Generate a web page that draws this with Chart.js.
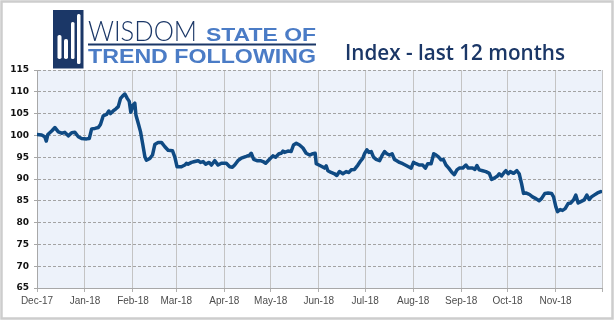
<!DOCTYPE html>
<html>
<head>
<meta charset="utf-8">
<script src="https://cdn.jsdelivr.net/npm/chart.js@4"></script>
<style>
  html, body { margin: 0; padding: 0; background: #ffffff; }
  #wrap { position: relative; width: 615px; height: 322px; overflow: hidden; }
  #chart { position: absolute; left: 0; top: 0; }
  #hdr { position: absolute; left: 0; top: 0; pointer-events: none; }
</style>
</head>
<body>
<div id="wrap">
  <canvas id="chart" width="615" height="322"></canvas>
  <svg id="hdr" width="615" height="322" xmlns="http://www.w3.org/2000/svg">
    <rect x="1.5" y="1.5" width="611" height="317" fill="none" stroke="#cdcdcd" stroke-width="2.5"/>
    <rect x="53" y="10" width="30.5" height="58.5" fill="#1b3767"/>
    <rect x="57.5" y="35" width="4" height="24" rx="1.8" fill="#ffffff"/>
    <rect x="64" y="39" width="4" height="20" rx="1.8" fill="#ffffff"/>
    <rect x="71" y="22" width="3.5" height="37" rx="1.5" fill="#ffffff"/>
    <rect x="77" y="14" width="3.5" height="50" rx="1.5" fill="#ffffff"/>
    <text x="88" y="40.5" font-family="Lato, 'Open Sans', sans-serif" font-weight="300" font-size="28" fill="#1b3767" textLength="109" lengthAdjust="spacingAndGlyphs">WISDOM</text>
    <text x="206" y="40.5" font-family="'Liberation Sans', Arial, sans-serif" font-weight="700" font-size="19" fill="#4b7cc6" textLength="110" lengthAdjust="spacingAndGlyphs">STATE OF</text>
    <line x1="88" y1="44.5" x2="316" y2="44.5" stroke="#1b3767" stroke-width="2"/>
    <text x="88" y="63" font-family="'Liberation Sans', Arial, sans-serif" font-weight="700" font-size="19.5" fill="#4b7cc6" textLength="228" lengthAdjust="spacingAndGlyphs">TREND FOLLOWING</text>
    <text x="345" y="60" font-family="'Open Sans', Lato, sans-serif" font-weight="600" font-size="21.5" fill="#1b3767" textLength="220" lengthAdjust="spacingAndGlyphs">Index - last 12 months</text>
  </svg>
</div>
<script>
// ---- data (x = days since 1 Dec 2017) ----
const monthLabels = ["Dec-17","Jan-18","Feb-18","Mar-18","Apr-18","May-18","Jun-18","Jul-18","Aug-18","Sep-18","Oct-18","Nov-18"];
const monthStartDays = [0,31,62,90,121,151,182,212,243,274,304,335];
const endDay = 365;
const yTicks = [65,70,75,80,85,90,95,100,105,110,115];

const dayIndex = [
  0,3,5,6,7,9.5,11.6,13.8,15.9,18,20.2,22.4,24.5,26.7,28.8,32,33.8,35.3,37.4,39.6,41,42.8,44.9,46.4,47.5,49.2,51,52.5,54,55.7,56.8,58.3,59.6,60.6,62.1,63.2,63.9,65.4,66.9,68.2,69.7,70.7,72.9,74.6,76.1,78.3,80.4,82.6,84.7,87.5,89,90.5,
  93.3,95.5,96.5,97.6,99.8,101.9,104.1,105.6,107.3,109,111.2,112.7,114.8,117,119.1,122.3,124.5,126.2,127.7,129.8,132,135.2,137.4,138.4,140,142.1,144.3,146,147.7,149.9,152.4,154.1,156.3,157.8,158.9,159.9,162.1,164.2,165.7,167.5,169.6,171.8,173.9,176.1,178.2,179.7,180.4,
  182.1,184.3,185.8,186.8,187.9,190,192.2,193.7,195.4,197.6,199.7,201.5,203,205.1,207.3,208.8,210.5,211.6,213.1,214.4,215.9,217.4,219.1,221.3,222.8,224.5,226,227.7,229.4,230.9,232.4,234.2,236.3,238.5,240.6,241.7,243.2,244.9,247.1,249.2,250.9,252.4,254.6,256.3,257.8,259.5,261,262.5,264.2,266,268.1,269.6,271.3,272.8,
  275,277.1,278.6,281.4,282.9,284.2,285.7,287.9,290,292.2,293.7,295.4,297.5,298.6,300.1,301.8,302.9,304.4,305.7,307.9,310,311.5,313,314.3,315.8,318,320.1,322.3,324.4,325.9,328.1,330.2,332.4,333.7,335.2,336.3,338,339.5,341.2,343.2,344.9,346.6,348.1,349.6,351.3,353.5,355.2,356.7,358.2,359.9,362.1,364.2
];
const indexValues = [
  100.2,100.1,99.7,98.7,100.2,101,101.8,100.8,100.5,100.7,99.9,100.6,100.7,99.7,99.3,99.2,99.3,101.5,101.6,101.8,102.5,104.5,104.8,105.6,105,105.6,106.1,106.6,108.5,109.2,109.5,108.5,107.8,105.3,107,107.4,104.7,102.8,100.8,98.2,95.1,94.3,94.7,95.5,97.9,98.4,98.4,97.4,96.6,96.5,95.1,92.8,
  92.8,93.2,93.6,93.4,93.8,94,94.2,93.8,94,93.4,93.8,93.2,94.2,93.2,93.6,93.6,92.8,92.7,93.2,94.2,94.8,95.2,95.5,95.9,94.5,94.2,94.2,94,93.6,94.4,95.3,95,95.8,95.9,96.4,96.1,96.4,96.3,97.8,98.2,97.8,97.1,95.9,95.5,95.8,95.9,93.5,
  93.2,92.8,92.5,93,91.9,91.5,91.2,90.8,91.7,91.2,91.7,91.5,92.1,92.2,93.2,94,94.8,95.8,96.7,96.1,96.3,95,94.5,94.2,95.3,96.3,95.8,95.5,95.8,94.5,94.2,93.8,93.5,93.1,92.7,92.5,93.8,93.5,93.2,93.2,92.5,93.5,93.5,95.8,95.5,95,94.4,94.5,93.2,92.5,91.5,91,92.1,92.5,
  92.5,93.2,92.5,92.5,92.2,93.1,92.1,91.9,91.7,91.3,89.9,90.2,90.7,91.2,90.7,91.5,91.9,91.2,91.7,91.3,91.9,91.2,89,86.7,86.8,86.5,85.9,85.5,85,85.5,86.7,86.8,86.7,85.9,83.6,82.5,83,82.8,83.2,84.4,84.5,85.2,86.3,84.5,84.8,85.2,86.3,85.3,85.9,86.3,86.8,87.1
];

const points = dayIndex.map((d, i) => ({ x: d, y: indexValues[i] }));
const xTickValues = monthStartDays.concat([endDay]);

const plotBg = {
  id: 'plotBg',
  beforeDraw(chart) {
    const { ctx, chartArea: a } = chart;
    ctx.save();
    ctx.fillStyle = '#edf2fa';
    ctx.fillRect(a.left, a.top, a.right - a.left, a.bottom - a.top);
    ctx.restore();
  }
};

new Chart(document.getElementById('chart'), {
  type: 'line',
  data: {
    datasets: [{
      data: points,
      borderColor: '#0f4a83',
      borderWidth: 3.5,
      pointRadius: 0,
      tension: 0,
      borderJoinStyle: 'round',
      borderCapStyle: 'round',
      fill: false
    }]
  },
  options: {
    responsive: false,
    animation: false,
    events: [],
    layout: { padding: { top: 70, right: 13, bottom: 0, left: 0 } },
    plugins: { legend: { display: false }, tooltip: { enabled: false }, title: { display: false } },
    scales: {
      x: {
        type: 'linear',
        min: 0,
        max: endDay,
        afterBuildTicks(scale) { scale.ticks = xTickValues.map(v => ({ value: v })); },
        afterFit(scale) { scale.height = 34; },
        ticks: {
          autoSkip: false,
          maxRotation: 0,
          padding: 3,
          color: '#4d4d4d',
          font: { family: "'Liberation Sans', Arial, sans-serif", size: 10 },
          callback(value) {
            const i = monthStartDays.indexOf(value);
            return i >= 0 ? monthLabels[i] : '';
          }
        },
        grid: { color: '#c4c4c4', lineWidth: 1, tickLength: 4, tickColor: '#b0b0b0' },
        border: { color: '#a8a8a8', width: 1 }
      },
      y: {
        min: 65,
        max: 115,
        afterBuildTicks(scale) { scale.ticks = yTicks.map(v => ({ value: v })); },
        afterFit(scale) { scale.width = 37; },
        ticks: {
          padding: 5,
          color: '#111111',
          font: { family: "'DejaVu Sans', 'Liberation Sans', sans-serif", size: 9, weight: 'bold' }
        },
        grid: { color: '#a3a3a3', lineWidth: 1, tickLength: 3, tickColor: '#a8a8a8' },
        border: { color: '#a8a8a8', width: 1, dash: [3, 2] }
      }
    }
  },
  plugins: [plotBg]
});
</script>
</body>
</html>
